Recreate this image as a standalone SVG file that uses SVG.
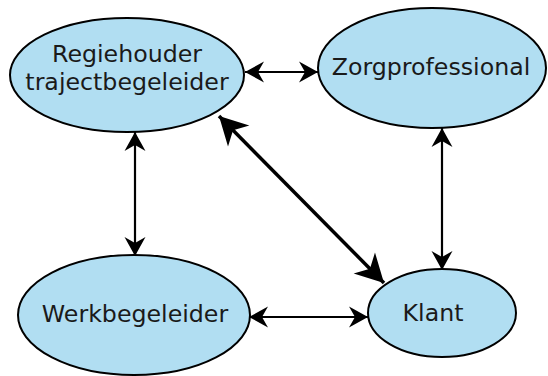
<svg xmlns="http://www.w3.org/2000/svg" width="548" height="376" viewBox="0 0 548 376">
<style>
.node ellipse{fill:#b1def2;stroke:#000;stroke-width:2}
.node text{font-family:"DejaVu Sans",Verdana,sans-serif;font-size:23.7px;fill:#1a1a1a;text-anchor:middle}
.conn line{stroke:#000;stroke-width:2.2;fill:none}
.conn line.thick{stroke-width:3.5}
</style>
<defs>
<marker id="ah" viewBox="-20 -12 22 24" refX="0" refY="0" markerWidth="22" markerHeight="24" markerUnits="userSpaceOnUse" orient="auto-start-reverse">
<path d="M0,0 L-19,-10.5 L-13,0 L-19,10.5 Z" fill="#000"/>
</marker>
<marker id="ahb" viewBox="-30 -17 32 34" refX="0" refY="0" markerWidth="32" markerHeight="34" markerUnits="userSpaceOnUse" orient="auto-start-reverse">
<path d="M0,0 L-28,-15 L-20,0 L-28,15 Z" fill="#000"/>
</marker>
</defs>
<g id="regiehouder" class="node">
<ellipse cx="127" cy="75" rx="117" ry="57"/>
<text x="127" y="62">Regiehouder</text>
<text x="127" y="90">trajectbegeleider</text>
</g>
<g id="zorgprofessional" class="node">
<ellipse cx="432" cy="68" rx="114" ry="60"/>
<text x="431" y="75">Zorgprofessional</text>
</g>
<g id="werkbegeleider" class="node">
<ellipse cx="134" cy="315" rx="116" ry="60"/>
<text x="135" y="322">Werkbegeleider</text>
</g>
<g id="klant" class="node">
<ellipse cx="442" cy="313" rx="74" ry="44"/>
<text x="433" y="321">Klant</text>
</g>
<g id="connectors" class="conn">
<line x1="245" y1="72" x2="318" y2="72" marker-start="url(#ah)" marker-end="url(#ah)"/>
<line x1="135" y1="132" x2="135" y2="256" marker-start="url(#ah)" marker-end="url(#ah)"/>
<line x1="442" y1="128" x2="442" y2="270" marker-start="url(#ah)" marker-end="url(#ah)"/>
<line x1="249" y1="317" x2="368" y2="317" marker-start="url(#ah)" marker-end="url(#ah)"/>
<line class="thick" x1="219" y1="116" x2="384" y2="283" marker-start="url(#ahb)" marker-end="url(#ahb)"/>
</g>
</svg>
